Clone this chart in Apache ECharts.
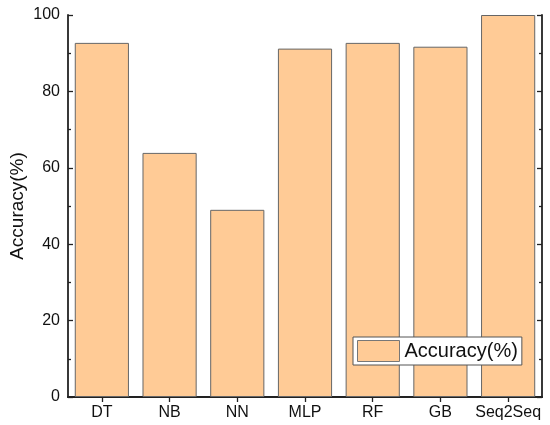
<!DOCTYPE html>
<html><head><meta charset="utf-8">
<script src="https://cdn.jsdelivr.net/npm/echarts@6/dist/echarts.min.js"></script>
<style>html,body{margin:0;padding:0;background:#fff}#c{width:550px;height:425px}</style>
</head><body><div id="c"></div>
<script>
var categories = ["DT", "NB", "NN", "MLP", "RF", "GB", "Seq2Seq"];
var accuracy = [92.7, 63.9, 49.0, 91.2, 92.7, 91.7, 100];
var yTicks = [0, 20, 40, 60, 80, 100];
var seriesName = "Accuracy(%)";
var yTitle = "Accuracy(%)";

var chart = echarts.init(document.getElementById('c'), null, {renderer: 'canvas'});
var font = 'Liberation Sans, Arial, sans-serif';
var axisLine = {show: true, lineStyle: {color: '#222', width: 1.8}};
var catAxis = function (pos, showLabel) {
  return {
    type: 'category', data: categories, position: pos,
    boundaryGap: true,
    axisLine: axisLine,
    axisTick: {show: true, inside: true, alignWithLabel: true, length: 5, lineStyle: {color: '#222', width: 1.3}},
    axisLabel: {show: showLabel, interval: 0, color: '#111', fontSize: 16, fontFamily: font, margin: 8},
    splitLine: {show: false}
  };
};
var valAxis = function (pos, showLabel) {
  return {
    type: 'value', position: pos, min: yTicks[0], max: yTicks[yTicks.length - 1], interval: 20,
    axisLine: axisLine,
    axisTick: {show: true, inside: true, length: 5, lineStyle: {color: '#222', width: 1.3}},
    minorTick: {show: true, splitNumber: 2, length: 3, lineStyle: {color: '#222', width: 1.3}},
    axisLabel: {show: showLabel, color: '#111', fontSize: 16, fontFamily: font, margin: 8},
    splitLine: {show: false}
  };
};
var option = {
  animation: false,
  backgroundColor: '#fff',
  grid: {left: 68, right: 8, top: 15, bottom: 28, containLabel: false, outerBoundsMode: 'none'},
  xAxis: [catAxis('bottom', true), catAxis('top', false)],
  yAxis: [valAxis('left', true), valAxis('right', false)],
  graphic: [{
    type: 'text', x: 18, y: 206, rotation: Math.PI / 2,
    style: {text: yTitle, fill: '#111', font: '19px Liberation Sans, Arial, sans-serif',
            textAlign: 'center', textVerticalAlign: 'middle'}
  }],
  legend: {
    show: true, left: 353, top: 337, orient: 'horizontal',
    data: [seriesName],
    itemWidth: 42, itemHeight: 21, itemGap: 6,
    padding: [3, 4, 3, 4],
    borderColor: '#555', borderWidth: 1, borderRadius: 0,
    backgroundColor: '#fff',
    itemStyle: {borderWidth: 1, borderColor: '#777'},
    textStyle: {fontSize: 20, color: '#111', fontFamily: font},
    icon: 'rect'
  },
  series: [{
    name: seriesName, type: 'bar', xAxisIndex: 0, yAxisIndex: 0,
    data: accuracy, barCategoryGap: '20%',
    itemStyle: {color: '#FFCB96', borderColor: '#666', borderWidth: 1}
  }]
};
chart.setOption(option);
</script></body></html>
